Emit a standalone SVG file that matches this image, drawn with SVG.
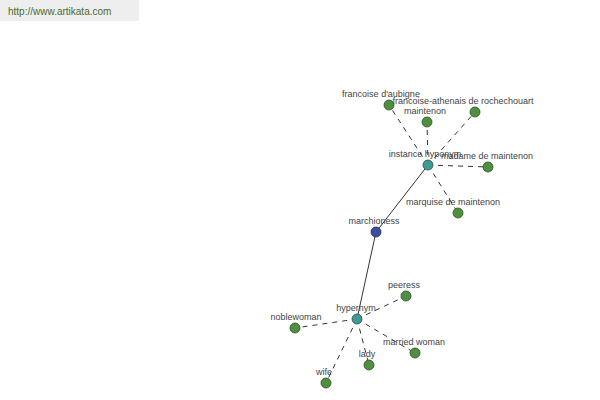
<svg xmlns="http://www.w3.org/2000/svg" width="600" height="400" viewBox="0 0 600 400">
<style>
.lbl{font-family:"Liberation Sans",Arial,sans-serif;font-size:9px;fill:#444;text-anchor:middle}
.leaf{fill:#4f8f3f;stroke:#2d4f25;stroke-width:0.8}
.hub{fill:#3f9a92;stroke:#244f4c;stroke-width:0.8}
.root{fill:#404ca0;stroke:#222a5a;stroke-width:0.8}
.dash{stroke:#000;stroke-width:0.8;stroke-dasharray:5,5;fill:none}
.solid{stroke:#000;stroke-width:0.8;fill:none}
</style>
<rect x="0" y="0" width="139" height="21" fill="#eeeeee"/>
<text x="8" y="15" font-family="Liberation Sans,Arial,sans-serif" font-size="10" fill="#4a6a30">http://www.artikata.com</text>
<g id="connectors">
<line class="solid" x1="428" y1="165" x2="376" y2="232"/>
<line class="solid" x1="376" y1="232" x2="357" y2="319"/>
<line class="dash" x1="428" y1="165" x2="389" y2="105"/>
<line class="dash" x1="428" y1="165" x2="427" y2="122"/>
<line class="dash" x1="428" y1="165" x2="475" y2="112"/>
<line class="dash" x1="428" y1="165" x2="488" y2="167"/>
<line class="dash" x1="428" y1="165" x2="458" y2="213"/>
<line class="dash" x1="357" y1="319" x2="406" y2="296"/>
<line class="dash" x1="357" y1="319" x2="295" y2="328"/>
<line class="dash" x1="357" y1="319" x2="415" y2="353"/>
<line class="dash" x1="357" y1="319" x2="369" y2="365"/>
<line class="dash" x1="357" y1="319" x2="326" y2="383"/>
</g>
<g id="francoise-daubigne"><circle class="leaf" cx="389" cy="105" r="5"/><text class="lbl" x="381" y="97">francoise d'aubigne</text></g>
<g id="maintenon"><circle class="leaf" cx="427" cy="122" r="5"/><text class="lbl" x="425" y="114">maintenon</text></g>
<g id="francoise-athenais"><circle class="leaf" cx="475" cy="112" r="5"/><text class="lbl" x="463" y="104">francoise-athenais de rochechouart</text></g>
<g id="madame-de-maintenon"><circle class="leaf" cx="488" cy="167" r="5"/><text class="lbl" x="487" y="159">madame de maintenon</text></g>
<g id="marquise-de-maintenon"><circle class="leaf" cx="458" cy="213" r="5"/><text class="lbl" x="453" y="205">marquise de maintenon</text></g>
<g id="instance-hyponym"><circle class="hub" cx="428" cy="165" r="5"/><text class="lbl" x="425" y="157">instance hyponym</text></g>
<g id="marchioness"><circle class="root" cx="376" cy="232" r="5"/><text class="lbl" x="374" y="224">marchioness</text></g>
<g id="hypernym"><circle class="hub" cx="357" cy="319" r="5"/><text class="lbl" x="356" y="311">hypernym</text></g>
<g id="peeress"><circle class="leaf" cx="406" cy="296" r="5"/><text class="lbl" x="404" y="288">peeress</text></g>
<g id="noblewoman"><circle class="leaf" cx="295" cy="328" r="5"/><text class="lbl" x="296" y="320">noblewoman</text></g>
<g id="married-woman"><circle class="leaf" cx="415" cy="353" r="5"/><text class="lbl" x="414" y="345">married woman</text></g>
<g id="lady"><circle class="leaf" cx="369" cy="365" r="5"/><text class="lbl" x="367" y="357">lady</text></g>
<g id="wife"><circle class="leaf" cx="326" cy="383" r="5"/><text class="lbl" x="324" y="375">wife</text></g>
</svg>
